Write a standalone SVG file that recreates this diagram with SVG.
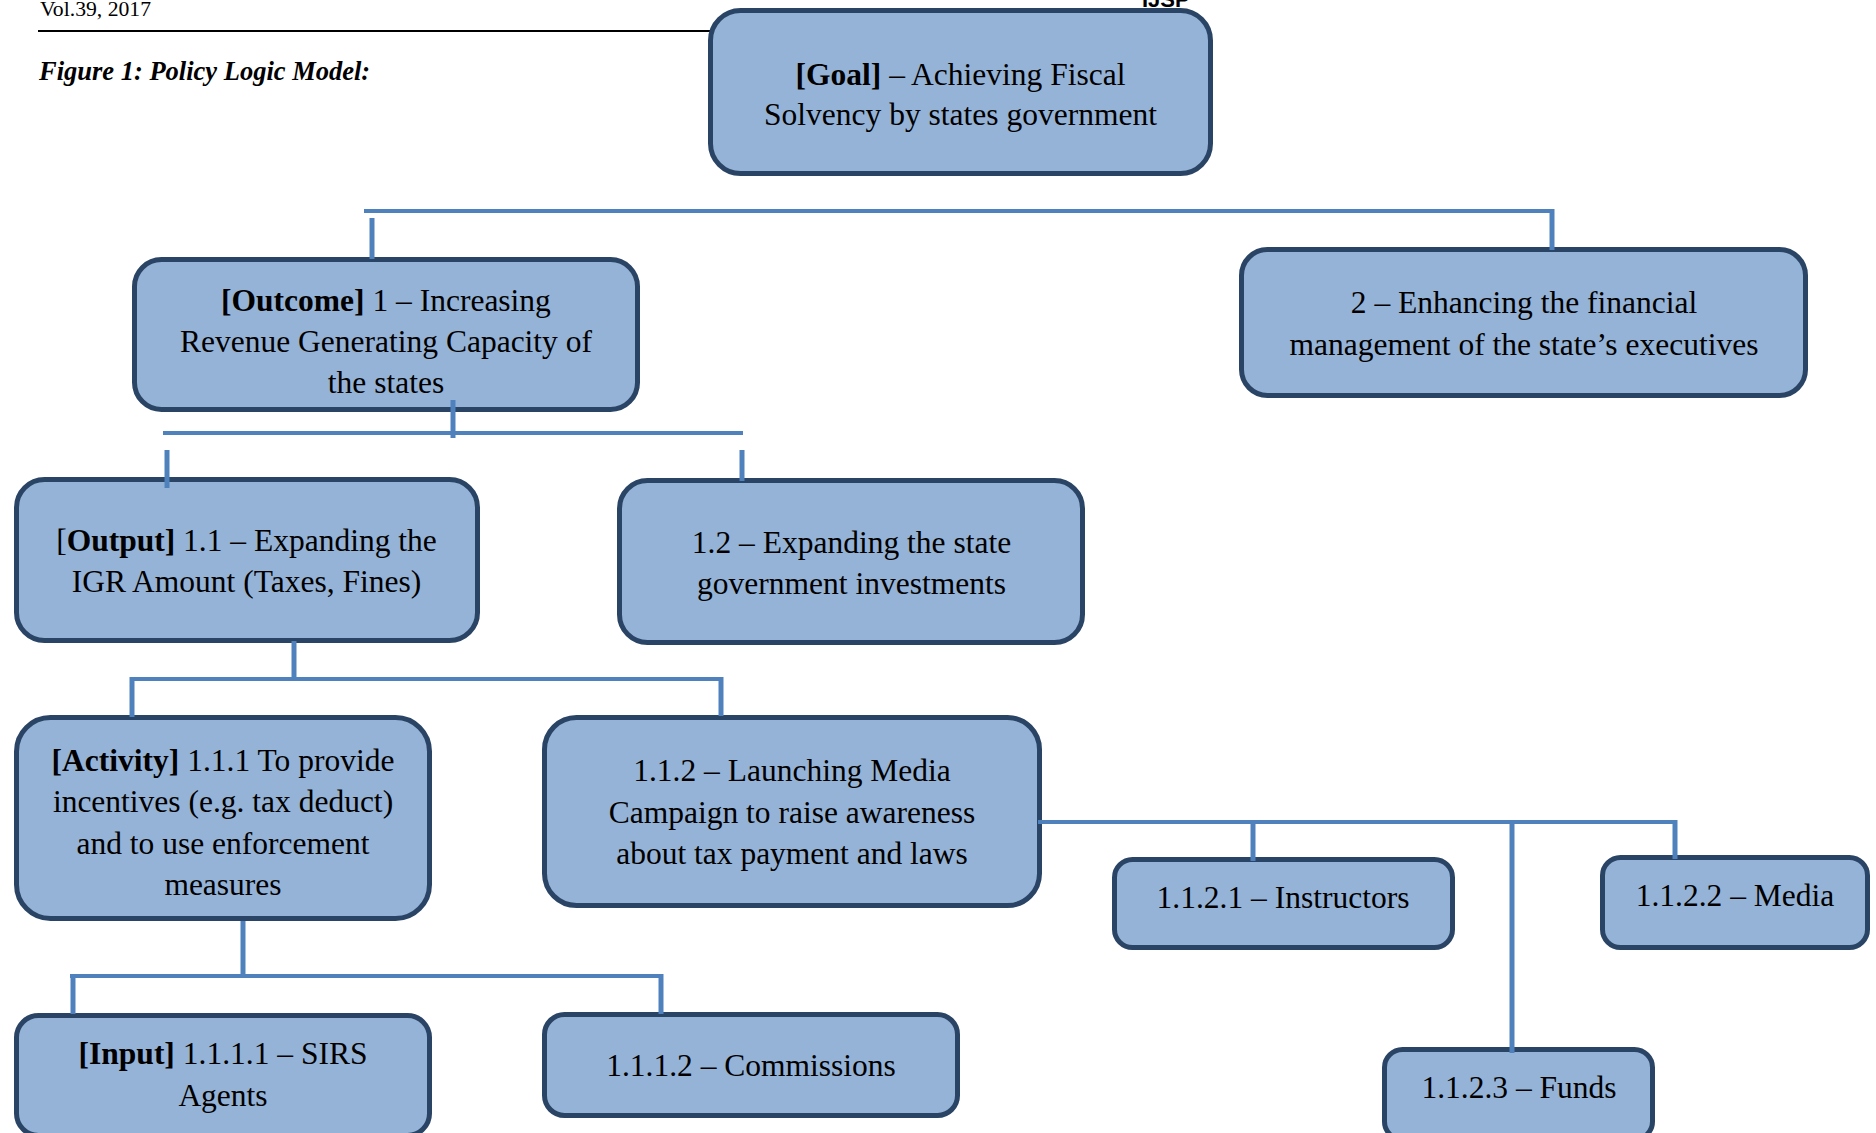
<svg xmlns="http://www.w3.org/2000/svg" width="1876" height="1133" viewBox="0 0 1876 1133">
<style>
.node rect{fill:#95b3d7;stroke:#2a4466;stroke-width:5}
.t{font-family:"Liberation Serif","Times New Roman",serif;font-size:31.5px;fill:#000;text-anchor:middle}
.b{font-weight:bold}
.h{stroke:#4f81bd;stroke-width:4;fill:none}
.v{stroke:#4f81bd;stroke-width:5;fill:none}
</style>
<rect width="1876" height="1133" fill="#fff"/>
<g id="header">
<text x="1142" y="7" font-family="Liberation Sans, Arial, sans-serif" font-weight="bold" font-size="22">IJSP</text>
<text x="40" y="16" font-family="Liberation Serif, serif" font-size="21.7">Vol.39, 2017</text>
<line x1="38" y1="31" x2="712" y2="31" stroke="#000" stroke-width="2"/>
<text x="39" y="80" font-family="Liberation Serif, serif" font-size="26.5" font-weight="bold" font-style="italic">Figure 1: Policy Logic Model:</text>
</g>
<g id="goal" class="node"><rect x="710.5" y="10.5" width="500" height="163" rx="30"/>
<text class="t" x="960.5" y="85"><tspan class="b">[Goal]</tspan> – Achieving Fiscal</text>
<text class="t" x="960.5" y="125">Solvency by states government</text></g>
<g id="outcome1" class="node"><rect x="134.5" y="259.5" width="503" height="150" rx="27"/>
<text class="t" x="386" y="311"><tspan class="b">[Outcome]</tspan> 1 – Increasing</text>
<text class="t" x="386" y="352">Revenue Generating Capacity of</text>
<text class="t" x="386" y="393">the states</text></g>
<g id="outcome2" class="node"><rect x="1241.5" y="249.5" width="564" height="146" rx="26"/>
<text class="t" x="1524" y="313">2 – Enhancing the financial</text>
<text class="t" x="1524" y="355">management of the state’s executives</text></g>
<g id="output11" class="node"><rect x="16.5" y="479.5" width="461" height="161" rx="28"/>
<text class="t" x="246.5" y="551">[<tspan class="b">Output]</tspan> 1.1 – Expanding the</text>
<text class="t" x="246.5" y="592">IGR Amount (Taxes, Fines)</text></g>
<g id="output12" class="node"><rect x="619.5" y="480.5" width="463" height="162" rx="28"/>
<text class="t" x="851.5" y="553">1.2 – Expanding the state</text>
<text class="t" x="851.5" y="594">government investments</text></g>
<g id="activity111" class="node"><rect x="16.5" y="717.5" width="413" height="201" rx="34"/>
<text class="t" x="223" y="771"><tspan class="b">[Activity]</tspan> 1.1.1 To provide</text>
<text class="t" x="223" y="812">incentives (e.g. tax deduct)</text>
<text class="t" x="223" y="854">and to use enforcement</text>
<text class="t" x="223" y="895">measures</text></g>
<g id="activity112" class="node"><rect x="544.5" y="717.5" width="495" height="188" rx="32"/>
<text class="t" x="792" y="781">1.1.2 – Launching Media</text>
<text class="t" x="792" y="823">Campaign to raise awareness</text>
<text class="t" x="792" y="864">about tax payment and laws</text></g>
<g id="input1111" class="node"><rect x="16.5" y="1015.5" width="413" height="120" rx="22"/>
<text class="t" x="223" y="1064"><tspan class="b">[Input]</tspan> 1.1.1.1 – SIRS</text>
<text class="t" x="223" y="1106">Agents</text></g>
<g id="input1112" class="node"><rect x="544.5" y="1014.5" width="413" height="101" rx="20"/>
<text class="t" x="751" y="1076">1.1.1.2 – Commissions</text></g>
<g id="input1121" class="node"><rect x="1114.5" y="859.5" width="338" height="88" rx="18"/>
<text class="t" x="1283" y="908">1.1.2.1 – Instructors</text></g>
<g id="input1122" class="node"><rect x="1602.5" y="857.5" width="265" height="90" rx="18"/>
<text class="t" x="1735" y="906">1.1.2.2 – Media</text></g>
<g id="input1123" class="node"><rect x="1384.5" y="1049.5" width="268" height="90" rx="18"/>
<text class="t" x="1519" y="1098">1.1.2.3 – Funds</text></g>
<g id="connectors">
<line class="h" x1="364" y1="211" x2="1554" y2="211"/>
<line class="v" x1="372" y1="218" x2="372" y2="259"/>
<line class="v" x1="1552" y1="209" x2="1552" y2="250"/>
<line class="v" x1="453" y1="400" x2="453" y2="438"/>
<line class="h" x1="163" y1="433" x2="743" y2="433"/>
<line class="v" x1="167" y1="450" x2="167" y2="488"/>
<line class="v" x1="742" y1="450" x2="742" y2="481"/>
<line class="v" x1="294" y1="641" x2="294" y2="679"/>
<line class="h" x1="130" y1="679" x2="723" y2="679"/>
<line class="v" x1="132" y1="677" x2="132" y2="717"/>
<line class="v" x1="721" y1="677" x2="721" y2="716"/>
<line class="v" x1="243" y1="921" x2="243" y2="976"/>
<line class="h" x1="70" y1="976" x2="663" y2="976"/>
<line class="v" x1="73" y1="974" x2="73" y2="1014"/>
<line class="v" x1="661" y1="974" x2="661" y2="1014"/>
<line class="h" x1="1038" y1="822" x2="1677" y2="822"/>
<line class="v" x1="1253" y1="822" x2="1253" y2="861"/>
<line class="v" x1="1512" y1="822" x2="1512" y2="1053"/>
<line class="v" x1="1675" y1="820" x2="1675" y2="859"/>
</g>
</svg>
